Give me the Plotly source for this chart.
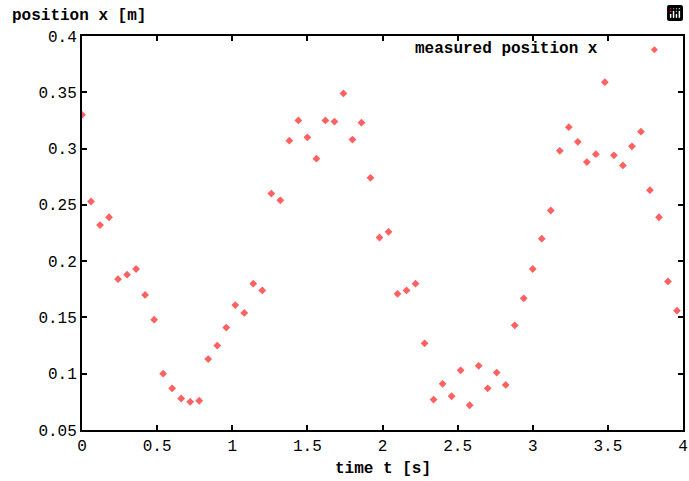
import plotly.graph_objects as go

dt = 0.06
position_x = [
    0.330, 0.253, 0.232, 0.239, 0.184, 0.188, 0.193, 0.170, 0.148, 0.100,
    0.087, 0.078, 0.075, 0.076, 0.113, 0.125, 0.141, 0.161, 0.154, 0.180,
    0.174, 0.260, 0.254, 0.307, 0.325, 0.310, 0.291, 0.325, 0.324, 0.349,
    0.308, 0.323, 0.274, 0.221, 0.226, 0.171, 0.174, 0.180, 0.127, 0.077,
    0.091, 0.080, 0.103, 0.072, 0.107, 0.087, 0.101, 0.090, 0.143, 0.167,
    0.193, 0.220, 0.245, 0.298, 0.319, 0.306, 0.288, 0.295, 0.359, 0.294,
    0.285, 0.302, 0.315, 0.263, 0.239, 0.182, 0.156,
]
time_t = [round(i * dt, 2) for i in range(len(position_x))]

x_ticks = [0, 0.5, 1, 1.5, 2, 2.5, 3, 3.5, 4]
y_ticks = [0.05, 0.1, 0.15, 0.2, 0.25, 0.3, 0.35, 0.4]

FONT = "Liberation Mono"
MARK = "#ff6060"

fig = go.Figure()
fig.add_trace(go.Scatter(
    x=time_t, y=position_x, mode="markers", name="measured position x",
    marker=dict(symbol="diamond", size=6, color=MARK),
    showlegend=False,
))

axis_common = dict(
    showgrid=False, zeroline=False, showline=True, linecolor="black", linewidth=2,
    mirror="ticks", ticks="inside", ticklen=5, tickwidth=2, tickcolor="black",
    tickfont=dict(family=FONT, size=16, color="black"),
    automargin=False,
)
fig.update_xaxes(range=[0, 4], tickvals=x_ticks, **axis_common)
fig.update_yaxes(range=[0.05, 0.4], tickvals=y_ticks, **axis_common)

fig.update_layout(
    width=689, height=481,
    margin=dict(l=82, r=6, t=36, b=51),
    plot_bgcolor="white", paper_bgcolor="white",
    font=dict(family=FONT, size=16, color="black"),
    modebar=dict(bgcolor="rgba(0,0,0,0)", color="rgba(0,0,0,0)",
                 activecolor="rgba(0,0,0,0)"),
    annotations=[
        dict(text="<b>position x [m]</b>", xref="paper", yref="paper", x=-0.12, y=1.051,
             xanchor="left", yanchor="middle", showarrow=False),
        dict(text="<b>time t [s]</b>", xref="paper", yref="paper", x=0.5, y=-0.1,
             xanchor="center", yanchor="middle", showarrow=False),
        dict(text="<b>measured position x</b>", xref="paper", yref="paper", x=0.862, y=0.967,
             xanchor="right", yanchor="middle", showarrow=False),
        dict(text="\u25c6", xref="paper", yref="paper", x=0.953, y=0.967,
             xanchor="center", yanchor="middle", showarrow=False,
             font=dict(family="DejaVu Sans", size=9, color=MARK)),
    ],
)

fig.write_html("out.html", post_script="document.body.style.margin='0';")
